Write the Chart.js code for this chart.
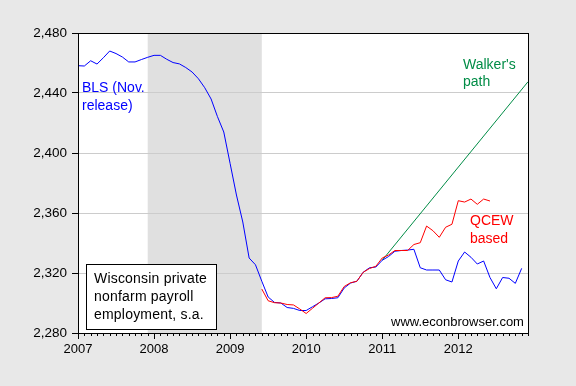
<!DOCTYPE html>
<html>
<head>
<meta charset="utf-8">
<script src="https://cdn.jsdelivr.net/npm/chart.js@4.4.0/dist/chart.umd.min.js"></script>
<style>
    html, body { margin: 0; padding: 0; background: #e8e8e8; }
</style>
</head>
<body>
<canvas id="chart" width="576" height="386"></canvas>
<script>
// Wisconsin private nonfarm payroll employment (thousands, s.a.), monthly Jan 2007 - Dec 2012

const years = [2007, 2008, 2009, 2010, 2011, 2012];
const monthNames = ['Jan', 'Feb', 'Mar', 'Apr', 'May', 'Jun', 'Jul', 'Aug', 'Sep', 'Oct', 'Nov', 'Dec'];
const months = [];
years.forEach(y => monthNames.forEach(m => months.push(`${m} ${y}`)));

// BLS (Nov. release), Jan 2007 - Nov 2012
const blsValues = [
    2458.2, 2458.0, 2461.5, 2459.3, 2463.5, 2468.0, 2466.3, 2464.0, 2460.7, 2460.7, 2462.3, 2463.8,
    2465.1, 2465.1, 2462.5, 2460.3, 2459.4, 2457.0, 2454.0, 2449.5, 2443.5, 2436.0, 2424.3, 2414.0,
    2393.0, 2372.0, 2354.0, 2330.0, 2325.5, 2314.5, 2304.0, 2300.4, 2300.0, 2297.0, 2296.4, 2295.0,
    2295.0, 2297.5, 2300.0, 2302.8, 2303.0, 2303.5, 2310.0, 2313.3, 2314.5, 2320.5, 2323.5, 2324.0,
    2328.5, 2331.0, 2334.5, 2335.0, 2335.3, 2335.8, 2323.5, 2322.0, 2322.0, 2322.0, 2315.5, 2314.0,
    2328.0, 2334.0, 2330.5, 2326.0, 2328.0, 2317.0, 2309.5, 2317.0, 2316.5, 2313.1, 2323.1
];

// QCEW based, Jun 2009 - Jun 2012
const qcewStart = 'Jun 2009';
const qcewValues = [
    2309.3, 2301.5, 2300.2, 2300.0, 2299.0, 2298.7, 2296.0,
    2293.0, 2296.5, 2300.0, 2303.5, 2303.6, 2304.5, 2311.0, 2313.5, 2314.5, 2320.5, 2323.0, 2324.5,
    2330.0, 2332.0, 2335.0, 2335.0, 2335.0, 2339.0, 2340.2, 2351.3, 2348.2, 2343.8, 2350.5, 2352.5,
    2368.2, 2367.3, 2369.3, 2365.8, 2369.3, 2368.0
];

// Walker's path: straight line between two months
const walkerMonths = ['Jan 2011', 'Dec 2012'];
const walkerValues = [2328.5, 2447.5];

// NBER recession shading
const recession = ['Dec 2007', 'Jun 2009'];

const yTicks = [2280, 2320, 2360, 2400, 2440, 2480];

const FONT = "'Liberation Sans', Arial, sans-serif";

const blsData = months.map((m, i) => i < blsValues.length ? blsValues[i] : null);
const q0 = months.indexOf(qcewStart);
const qcewData = months.map((m, i) => {
    const k = i - q0;
    return k >= 0 && k < qcewValues.length ? qcewValues[k] : null;
});
const walkerData = months.map(m => {
    const k = walkerMonths.indexOf(m);
    return k >= 0 ? walkerValues[k] : null;
});

// Plot background, recession band, month ticks, frame and text
const decorations = {
    id: 'decorations',
    beforeDraw(chart) {
        const { ctx, chartArea: a, scales: { x } } = chart;
        ctx.save();
        ctx.fillStyle = '#e8e8e8';
        ctx.fillRect(0, 0, chart.width, chart.height);
        ctx.fillStyle = '#ffffff';
        ctx.fillRect(a.left, a.top, a.right - a.left, a.bottom - a.top);
        const x0 = x.getPixelForValue(months.indexOf(recession[0]));
        const x1 = x.getPixelForValue(months.indexOf(recession[1]));
        ctx.fillStyle = '#e0e0e0';
        ctx.fillRect(x0, a.top, x1 - x0, a.bottom - a.top);
        ctx.restore();
    },
    afterDraw(chart) {
        const { ctx, chartArea: a, scales: { x } } = chart;
        ctx.save();
        ctx.strokeStyle = '#000';
        ctx.lineWidth = 1;

        // month ticks below the axis, longer at each year
        ctx.beginPath();
        months.forEach((m, i) => {
            const px = Math.round(x.getPixelForValue(i)) + 0.5;
            ctx.moveTo(px, a.bottom);
            ctx.lineTo(px, a.bottom + (i % 12 === 0 ? 6 : 3));
        });
        ctx.stroke();

        // frame
        ctx.strokeRect(Math.round(a.left) + 0.5, Math.round(a.top) + 0.5,
            Math.round(a.right - a.left), Math.round(a.bottom - a.top));

        // label box
        ctx.fillStyle = '#fff';
        ctx.fillRect(86.5, 264.5, 130, 65);
        ctx.strokeRect(86.5, 264.5, 130, 65);

        ctx.textBaseline = 'alphabetic';
        ctx.textAlign = 'left';
        ctx.font = `14px ${FONT}`;
        ctx.fillStyle = '#000';
        ctx.letterSpacing = '0.2px';
        ctx.fillText('Wisconsin private', 94, 283);
        ctx.fillText('nonfarm payroll', 94, 301);
        ctx.fillText('employment, s.a.', 94, 318.5);
        ctx.letterSpacing = '0px';

        ctx.fillStyle = '#0000ff';
        ctx.fillText('BLS (Nov.', 82, 92);
        ctx.fillText('release)', 82, 110);

        ctx.fillStyle = '#008c46';
        ctx.fillText("Walker's", 463, 68.5);
        ctx.fillText('path', 463, 86);

        ctx.fillStyle = '#ff0000';
        ctx.fillText('QCEW', 470, 225);
        ctx.fillText('based', 470, 242.5);

        ctx.fillStyle = '#000';
        ctx.font = `13px ${FONT}`;
        ctx.fillText('www.econbrowser.com', 391, 326);
        ctx.restore();
    }
};

new Chart(document.getElementById('chart').getContext('2d'), {
    type: 'line',
    data: {
        labels: months,
        datasets: [
            {
                label: 'QCEW based',
                data: qcewData,
                borderColor: '#ff0000',
                borderWidth: 1,
                pointRadius: 0,
                tension: 0
            },
            {
                label: 'BLS (Nov. release)',
                data: blsData,
                borderColor: '#0000ff',
                borderWidth: 1,
                pointRadius: 0,
                tension: 0
            },
            {
                label: "Walker's path",
                data: walkerData,
                borderColor: '#008c46',
                borderWidth: 1,
                pointRadius: 0,
                spanGaps: true,
                tension: 0
            }
        ]
    },
    options: {
        responsive: false,
        animation: false,
        layout: { padding: { top: 33, right: 48, left: 0, bottom: 0 } },
        plugins: {
            legend: { display: false },
            tooltip: { enabled: false }
        },
        scales: {
            x: {
                type: 'category',
                grid: { drawOnChartArea: false, drawTicks: false },
                border: { display: true, color: '#000', width: 1 },
                ticks: {
                    autoSkip: false,
                    maxRotation: 0,
                    padding: 9,
                    color: '#000',
                    font: { family: FONT, size: 13 },
                    callback: (v, i) => i % 12 === 0 ? months[i].slice(4) : ''
                },
                afterFit: s => { s.height = 53; }
            },
            y: {
                min: 2280,
                max: 2480,
                afterBuildTicks: s => { s.ticks = yTicks.map(v => ({ value: v })); },
                ticks: {
                    padding: 5,
                    color: '#000',
                    font: { family: FONT, size: 13.5 },
                    callback: v => v.toLocaleString('en-US')
                },
                grid: { color: '#cccccc', tickColor: '#000', tickLength: 6 },
                border: { color: '#000', width: 1 },
                afterFit: s => { s.width = 78; }
            }
        }
    },
    plugins: [decorations]
});
</script>
</body>
</html>
